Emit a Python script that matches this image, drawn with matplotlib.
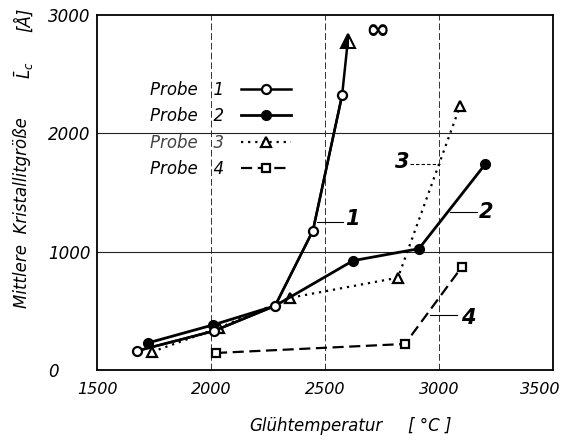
import matplotlib
matplotlib.use("Agg")
import matplotlib.pyplot as plt
from matplotlib.transforms import ScaledTranslation

plt.rcParams['font.family'] = ['DejaVu Sans']
plt.rcParams['mathtext.fontset'] = 'dejavusans'

# Data
probe1_x = [1675, 2013, 2281, 2447, 2575]
probe1_y = [161, 330, 542, 1178, 2322]
probe1_end_x = 2600          # arrow tip (value -> infinity)
probe1_end_y = 2780

probe2_x = [1724, 2009, 2281, 2623, 2912, 3202]
probe2_y = [229, 381, 542, 924, 1025, 1737]

probe3_x = [1741, 2035, 2346, 2820, 3092]
probe3_y = [153, 356, 610, 780, 2229]

probe4_x = [2022, 2851, 3101]
probe4_y = [144, 220, 873]

x_ticks = [1500, 2000, 2500, 3000, 3500]
y_ticks = [0, 1000, 2000, 3000]
legend_labels = ["Probe   1", "Probe   2", "Probe   3", "Probe   4"]

W, H = 561, 441
fig = plt.figure(figsize=(W / 100, H / 100), dpi=100)
ax = fig.add_axes([97 / W, 1 - 370 / H, (553 - 97) / W, (370 - 15) / H])

ax.set_xlim(1500, 3500)
ax.set_ylim(0, 3000)

# grid
for gx in [2000, 2500, 3000]:
    ax.axvline(gx, color='#333333', lw=0.7, ls=(0, (7, 3)), zorder=1)
for gy in [1000, 2000]:
    ax.axhline(gy, color='#222222', lw=0.8, zorder=1)

# series
l3, = ax.plot(probe3_x, probe3_y, color='black', lw=1.6, ls=(0, (1, 2.2)),
              marker='^', ms=7.5, mfc='white', mec='black', mew=1.6, zorder=3)
l2, = ax.plot(probe2_x, probe2_y, color='black', lw=2.0, ls='-',
              marker='o', ms=7, mfc='black', mec='black', markevery=[0, 1, 3, 4, 5], zorder=4)
l4, = ax.plot(probe4_x, probe4_y, color='black', lw=1.6, ls=(0, (5, 2.5)),
              marker='s', ms=5.5, mfc='white', mec='black', mew=1.6, zorder=3)
ax.plot(probe1_x + [probe1_end_x], probe1_y + [probe1_end_y], color='black', lw=1.8,
        ls='-', zorder=5)
l1, = ax.plot(probe1_x, probe1_y, color='black', lw=1.8, ls='-',
              marker='o', ms=6.5, mfc='white', mec='black', mew=1.6, zorder=6)
ax.plot([probe1_end_x], [probe1_end_y], ls='none', marker='^', ms=10,
        fillstyle='left', mfc='black', mfcalt='white', mec='black', mew=1.5, zorder=7)
ax.text(2732, 2864, "∞", fontsize=21, fontweight='bold', ha='center', va='center')

# curve labels with leader lines
lab_kw = dict(fontsize=15, fontstyle='italic', fontweight='bold', va='center', ha='center')
ax.plot([2465, 2579], [1254, 1254], color='black', lw=0.8)
ax.text(2618, 1280, "1", **lab_kw)
ax.plot([3048, 3167], [1331, 1331], color='black', lw=0.8)
ax.text(3205, 1331, "2", **lab_kw)
ax.plot([2873, 3004], [1737, 1737], color='black', lw=0.8, ls=(0, (3, 2)))
ax.text(2838, 1754, "3", **lab_kw)
ax.plot([2961, 3079], [466, 466], color='black', lw=0.8)
ax.text(3127, 441, "4", **lab_kw)

# legend
leg = ax.legend([l1, l2, l3, l4], legend_labels, loc='upper left',
                bbox_to_anchor=(150 / W, 1 - 81 / H), bbox_transform=fig.transFigure,
                frameon=False, markerfirst=False, handlelength=3.0, handletextpad=1.0,
                labelspacing=0.5, borderpad=0, borderaxespad=0,
                prop={'size': 12, 'style': 'italic'})
leg.get_texts()[2].set_color('#444444')

# ticks and spines
ax.set_xticks(x_ticks)
ax.set_yticks(y_ticks)
ax.set_xticklabels([str(v) for v in x_ticks], fontsize=11.5, fontstyle='italic')
ax.set_yticklabels([str(v) for v in y_ticks], fontsize=12, fontstyle='italic')
ax.tick_params(axis='x', length=0, pad=9)
ax.tick_params(axis='y', length=0, pad=35)
for lbl in ax.get_yticklabels():
    lbl.set_horizontalalignment('left')
last = ax.xaxis.get_major_ticks()[-1].label1
last.set_transform(last.get_transform() + ScaledTranslation(-0.13, 0, fig.dpi_scale_trans))
for s in ax.spines.values():
    s.set_linewidth(1.3)
    s.set_color('black')

# axis labels
fig.text(22 / W, 1 - 213 / H, "Mittlere  Kristallitgröße",
         rotation=90, ha='center', va='center', fontsize=12, fontstyle='italic')
fig.text(24 / W, 1 - 70 / H, r"$\bar{L}_c$",
         rotation=90, ha='center', va='center', fontsize=12)
fig.text(24 / W, 1 - 20 / H, "[Å]",
         rotation=90, ha='center', va='center', fontsize=12, fontstyle='italic')
fig.text(316 / W, 1 - 426 / H, "Glühtemperatur", ha='center', va='center',
         fontsize=12, fontstyle='italic')
fig.text(430 / W, 1 - 426 / H, "[ °C ]", ha='center', va='center',
         fontsize=12, fontstyle='italic')

fig.savefig("out.png", dpi=100, facecolor='white')
